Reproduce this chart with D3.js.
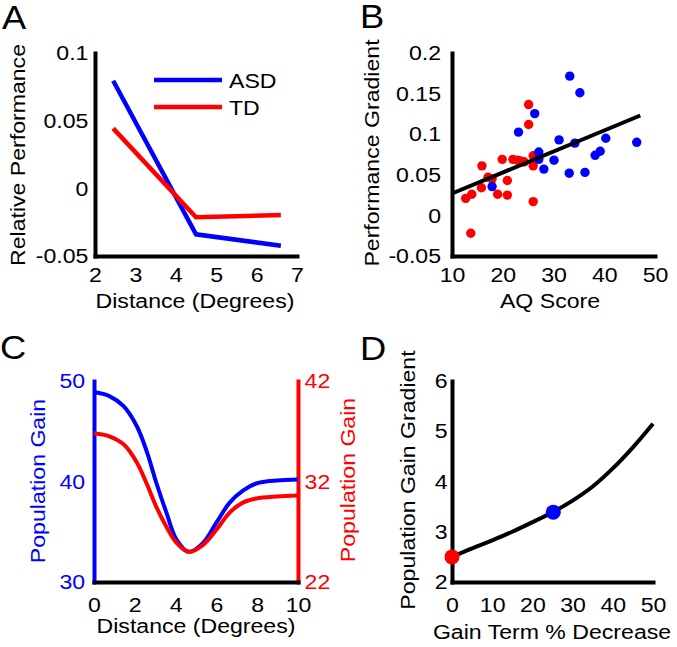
<!DOCTYPE html>
<html>
<head>
<meta charset="utf-8">
<script src="https://cdn.jsdelivr.net/npm/d3@7"></script>
<style>
  html, body { margin: 0; padding: 0; background: #fff; }
  svg { display: block; }
</style>
</head>
<body>
<script>
// ---------------- DATA ----------------
// Panel A
const distA = [2.45, 4.5, 6.6];
const asdA = [0.0795, -0.034, -0.0424];
const tdA = [0.0443, -0.0214, -0.0197];
const xTicksA = [2, 3, 4, 5, 6, 7];
const yTicksA = [-0.05, 0, 0.05, 0.1];
const legendA = ["ASD", "TD"];

// Panel B
const aqTD = [12.7, 13.9, 13.7, 15.9, 15.8, 17.1, 17.9, 19.0, 19.9, 20.9, 20.9, 22.0, 22.9, 23.5, 24.2, 25.1, 25.1, 26.0, 26.0, 26.0];
const gradTD = [0.021, 0.026, -0.022, 0.061, 0.034, 0.047, 0.045, 0.026, 0.069, 0.043, 0.025, 0.069, 0.068, 0.067, 0.066, 0.1365, 0.112, 0.0735, 0.061, 0.017];
const aqASD = [17.9, 23.1, 26.3, 27.1, 27.1, 28.1, 30.1, 31.1, 33.2, 33.1, 34.2, 35.2, 36.2, 38.2, 39.2, 40.3, 46.4];
const gradASD = [0.0355, 0.1026, 0.1254, 0.078, 0.069, 0.057, 0.068, 0.093, 0.1715, 0.052, 0.089, 0.151, 0.053, 0.074, 0.079, 0.095, 0.090];
const regAQ = [10, 47.1];
const regGrad = [0.027, 0.123];
const xTicksB = [10, 20, 30, 40, 50];
const yTicksB = [-0.05, 0, 0.05, 0.1, 0.15, 0.2];

// Panel C
const distC = [0, 0.75, 1.45, 2.1, 2.6, 3.05, 3.55, 4.05, 4.65, 5.35, 6.0, 6.65, 7.3, 7.95, 8.95, 10];
const gainASD = [48.9, 48.5, 47.5, 45.5, 42.9, 39.9, 36.9, 34.2, 33.0, 33.9, 35.9, 37.9, 39.1, 39.8, 40.1, 40.2];
const gainTD = [36.8, 36.5, 35.7, 33.9, 31.7, 29.5, 27.5, 25.9, 25.0, 25.7, 27.2, 28.9, 29.9, 30.3, 30.5, 30.6];
const xTicksC = [0, 2, 4, 6, 8, 10];
const yTicksCLeft = [30, 40, 50];
const yTicksCRight = [22, 32, 42];

// Panel D
const pctD = [0, 5, 10, 15, 20, 25, 30, 35, 40, 45, 50];
const gradD = [2.5, 2.67, 2.83, 3.0, 3.19, 3.39, 3.62, 3.9, 4.26, 4.68, 5.15];
const markerPct = [0, 25.2];
const markerGrad = [2.5, 3.39];
const xTicksD = [0, 10, 20, 30, 40, 50];
const yTicksD = [2, 3, 4, 5, 6];

// ---------------- STYLE ----------------
const FONT = '"Liberation Sans", Arial, Helvetica, sans-serif';
const FS = 21, SX = 1.1;
const BLUE = "#0000ff", RED = "#ff0000", BLACK = "#000000";

const svg = d3.select("body").append("svg").attr("width", 677).attr("height", 647)
  .style("font-family", FONT);

function txt(x, y, s, o = {}) {
  return svg.append("text")
    .attr("transform", `translate(${x},${y}) rotate(${o.rot || 0}) scale(${SX},1)`)
    .attr("text-anchor", o.anchor || "middle")
    .attr("fill", o.fill || BLACK)
    .style("font-size", (o.size || FS) + "px")
    .style("font-family", FONT)
    .text(s);
}

function drawAxis(gen, tx, ty, color, textColor) {
  const g = svg.append("g").attr("transform", `translate(${tx},${ty})`).call(gen);
  g.select(".domain").attr("stroke", color).attr("stroke-width", 4).attr("stroke-linecap", "square");
  g.selectAll(".tick line").remove();
  g.selectAll(".tick text")
    .attr("fill", textColor || BLACK)
    .style("font-size", FS + "px")
    .style("font-family", FONT)
    .attr("transform", `scale(${SX},1)`);
  return g;
}
const fmt = d => String(d);

// ---------------- PANEL A ----------------
{
  const x = d3.scaleLinear().domain([2, 7]).range([95, 297]);
  const y = d3.scaleLinear().domain([-0.05, 0.1]).range([256, 53]);
  drawAxis(d3.axisBottom(x).tickValues(xTicksA).tickSizeOuter(0).tickSize(0).tickPadding(11).tickFormat(fmt), 0, y(-0.05), BLACK);
  drawAxis(d3.axisLeft(y).tickValues(yTicksA).tickSizeOuter(0).tickSize(0).tickPadding(6).tickFormat(fmt), x(2), 0, BLACK);
  const line = d3.line().x((d, i) => x(distA[i])).y(d => y(d));
  svg.append("path").attr("d", line(asdA)).attr("fill", "none").attr("stroke", BLUE).attr("stroke-width", 4.5);
  svg.append("path").attr("d", line(tdA)).attr("fill", "none").attr("stroke", RED).attr("stroke-width", 4.5);
  // legend
  const lc = [BLUE, RED];
  legendA.forEach((s, i) => {
    const ly = 80 + i * 27;
    svg.append("line").attr("x1", 154).attr("x2", 222).attr("y1", ly).attr("y2", ly)
      .attr("stroke", lc[i]).attr("stroke-width", 4.5);
    txt(229, ly + 8, s, { anchor: "start" });
  });
  txt(195, 308, "Distance (Degrees)");
  txt(25, 155, "Relative Performance", { rot: -90 });
  txt(2, 29, "A", { anchor: "start", size: 33 });
}

// ---------------- PANEL B ----------------
{
  const x = d3.scaleLinear().domain([10, 50]).range([452, 655]);
  const y = d3.scaleLinear().domain([-0.05, 0.2]).range([256, 53]);
  drawAxis(d3.axisBottom(x).tickValues(xTicksB).tickSizeOuter(0).tickSize(0).tickPadding(11).tickFormat(fmt), 0, y(-0.05), BLACK);
  drawAxis(d3.axisLeft(y).tickValues(yTicksB).tickSizeOuter(0).tickSize(0).tickPadding(10).tickFormat(fmt), x(10), 0, BLACK);
  svg.append("g").selectAll("circle").data(aqTD).join("circle")
    .attr("cx", d => x(d)).attr("cy", (d, i) => y(gradTD[i])).attr("r", 4.7).attr("fill", RED);
  svg.append("g").selectAll("circle").data(aqASD).join("circle")
    .attr("cx", d => x(d)).attr("cy", (d, i) => y(gradASD[i])).attr("r", 4.7).attr("fill", BLUE);
  const line = d3.line().x((d, i) => x(regAQ[i])).y(d => y(d));
  svg.append("path").attr("d", line(regGrad)).attr("fill", "none").attr("stroke", BLACK).attr("stroke-width", 4);
  txt(550, 308, "AQ Score");
  txt(379, 153, "Performance Gradient", { rot: -90 });
  txt(360, 28, "B", { anchor: "start", size: 33 });
}

// ---------------- PANEL C ----------------
{
  const x = d3.scaleLinear().domain([0, 10]).range([94, 298]);
  const yL = d3.scaleLinear().domain([30, 50]).range([582, 381]);
  const yR = d3.scaleLinear().domain([22, 42]).range([582, 381]);
  drawAxis(d3.axisLeft(yL).tickValues(yTicksCLeft).tickSizeOuter(0).tickSize(0).tickPadding(8).tickFormat(fmt), x(0), 0, BLUE, BLUE);
  drawAxis(d3.axisRight(yR).tickValues(yTicksCRight).tickSizeOuter(0).tickSize(0).tickPadding(6).tickFormat(fmt), x(10), 0, RED, RED);
  drawAxis(d3.axisBottom(x).tickValues(xTicksC).tickSizeOuter(0).tickSize(0).tickPadding(15).tickFormat(fmt), 0, 582, BLACK);
  const curve = d3.curveCatmullRom.alpha(0.5);
  const lineL = d3.line().x((d, i) => x(distC[i])).y(d => yL(d)).curve(curve);
  const lineR = d3.line().x((d, i) => x(distC[i])).y(d => yR(d)).curve(curve);
  svg.append("path").attr("d", lineL(gainASD)).attr("fill", "none").attr("stroke", BLUE).attr("stroke-width", 4);
  svg.append("path").attr("d", lineR(gainTD)).attr("fill", "none").attr("stroke", RED).attr("stroke-width", 4);
  txt(196, 633, "Distance (Degrees)");
  txt(45, 481, "Population Gain", { rot: -90, fill: BLUE });
  txt(355, 480, "Population Gain", { rot: -90, fill: RED });
  txt(0, 359, "C", { anchor: "start", size: 33 });
}

// ---------------- PANEL D ----------------
{
  const x = d3.scaleLinear().domain([0, 50]).range([452, 653]);
  const y = d3.scaleLinear().domain([2, 6]).range([582, 381]);
  drawAxis(d3.axisBottom(x).tickValues(xTicksD).tickSizeOuter(0).tickSize(0).tickPadding(15).tickFormat(fmt), 0, 582, BLACK);
  drawAxis(d3.axisLeft(y).tickValues(yTicksD).tickSizeOuter(0).tickSize(0).tickPadding(4).tickFormat(fmt), x(0), 0, BLACK);
  const line = d3.line().x((d, i) => x(pctD[i])).y(d => y(d)).curve(d3.curveCatmullRom.alpha(0.5));
  svg.append("path").attr("d", line(gradD)).attr("fill", "none").attr("stroke", BLACK).attr("stroke-width", 4);
  const mc = [RED, BLUE];
  svg.append("g").selectAll("circle").data(markerPct).join("circle")
    .attr("cx", d => x(d)).attr("cy", (d, i) => y(markerGrad[i])).attr("r", 7.5).attr("fill", (d, i) => mc[i]);
  txt(552, 639, "Gain Term % Decrease");
  txt(415, 480, "Population Gain Gradient", { rot: -90 });
  txt(360, 360, "D", { anchor: "start", size: 33 });
}
</script>
</body>
</html>
